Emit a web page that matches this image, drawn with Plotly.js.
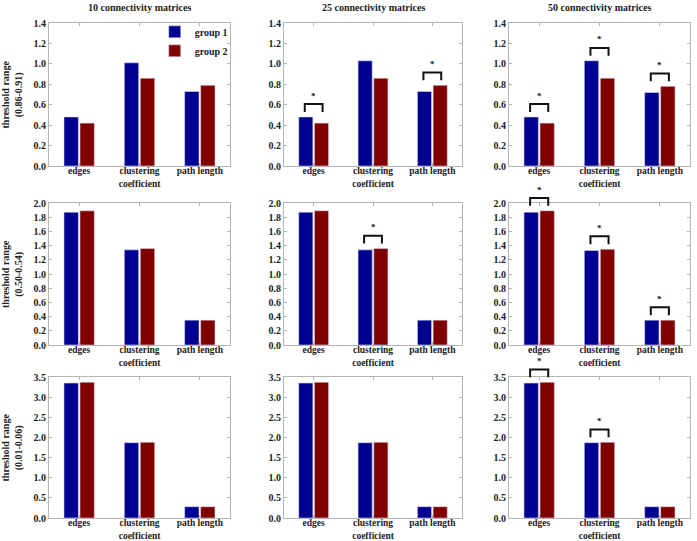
<!DOCTYPE html>
<html>
<head>
<meta charset="utf-8">
<script src="https://cdn.plot.ly/plotly-3.0.1.min.js"></script>
<style>html,body{margin:0;padding:0;background:#fff;}#chart{width:697px;height:541px;}</style>
</head>
<body>
<div id="chart"></div>
<script>
// ---------- DATA ----------
const categories = ['edges', 'clustering<br>coefficient', 'path length'];
const groupNames = ['group 1', 'group 2'];
const columnTitles = ['10 connectivity matrices', '25 connectivity matrices', '50 connectivity matrices'];
const rowTitles = ['threshold range<br>(0.86-0.91)', 'threshold range<br>(0.50-0.54)', 'threshold range<br>(0.01-0.06)'];

// values per column (10, 25, 50 matrices), each [edges, clustering coefficient, path length]
const range086_group1 = [[0.48, 1.01, 0.73], [0.48, 1.03, 0.73], [0.48, 1.03, 0.72]];
const range086_group2 = [[0.42, 0.86, 0.79], [0.42, 0.86, 0.79], [0.42, 0.86, 0.78]];
const range050_group1 = [[1.87, 1.34, 0.35], [1.87, 1.34, 0.35], [1.87, 1.33, 0.35]];
const range050_group2 = [[1.89, 1.36, 0.35], [1.89, 1.36, 0.35], [1.89, 1.35, 0.35]];
const range001_group1 = [[3.35, 1.87, 0.28], [3.35, 1.87, 0.28], [3.35, 1.87, 0.28]];
const range001_group2 = [[3.37, 1.88, 0.28], [3.37, 1.88, 0.28], [3.37, 1.88, 0.28]];

// significance flags (1 = asterisk bracket)
const range086_sig = [[0, 0, 0], [1, 0, 1], [1, 1, 1]];
const range050_sig = [[0, 0, 0], [0, 1, 0], [1, 1, 1]];
const range001_sig = [[0, 0, 0], [0, 0, 0], [1, 1, 0]];

const yMax = [1.4, 2.0, 3.5];
const yStep = [0.2, 0.2, 0.5];

// ---------- STYLE / LAYOUT ----------
const W = 697, H = 541;
const colColors = ['#000091', '#800000'];
const fam = 'Liberation Serif, DejaVu Serif, serif';
const bold = (size, color) => ({family: fam, size: size, color: color || '#222', weight: 'bold'});
const xDomPx = [[49, 230], [284, 462], [509, 690]];
const yDomPx = [[23, 166], [203, 345], [377, 518]];

const g1 = [range086_group1, range050_group1, range001_group1];
const g2 = [range086_group2, range050_group2, range001_group2];
const sig = [range086_sig, range050_sig, range001_sig];

const traces = [];
const layout = {
  width: W, height: H, autosize: false,
  margin: {l: 0, r: 0, t: 0, b: 0},
  paper_bgcolor: '#fff', plot_bgcolor: '#fff',
  barmode: 'group', bargap: 0.47, bargroupgap: 0.1,
  font: bold(10),
  showlegend: true,
  legend: {x: 0.222, y: 0.968, xanchor: 'left', yanchor: 'top', bgcolor: 'rgba(0,0,0,0)',
           font: bold(10), itemwidth: 30},
  shapes: [], annotations: []
};

for (let r = 0; r < 3; r++) {
  for (let c = 0; c < 3; c++) {
    const k = r * 3 + c + 1;
    const xa = 'x' + (k === 1 ? '' : k), ya = 'y' + (k === 1 ? '' : k);
    const xKey = 'xaxis' + (k === 1 ? '' : k), yKey = 'yaxis' + (k === 1 ? '' : k);
    const series = [g1[r][c], g2[r][c]];
    series.forEach((vals, gi) => {
      traces.push({
        type: 'bar', x: [0, 1, 2], y: vals, name: groupNames[gi],
        xaxis: xa, yaxis: ya, marker: {color: colColors[gi], line: {width: 0.6, color: '#d8d8ee'}},
        showlegend: k === 1, hoverinfo: 'skip'
      });
    });
    layout[xKey] = {
      domain: [xDomPx[c][0] / W, xDomPx[c][1] / W], anchor: ya,
      range: [-0.5, 2.5], tickvals: [0, 1, 2], ticktext: categories,
      showline: true, linecolor: '#b4b4b4', linewidth: 1, mirror: 'ticks',
      ticks: 'inside', ticklen: 3, tickcolor: '#b4b4b4', showgrid: false, zeroline: false,
      ticklabelstandoff: -4,
      tickfont: bold(9.5), fixedrange: true
    };
    layout[yKey] = {
      domain: [1 - yDomPx[r][1] / H, 1 - yDomPx[r][0] / H], anchor: xa,
      range: [0, yMax[r]], dtick: yStep[r], tick0: 0, tickformat: '.1f',
      showline: true, linecolor: '#b4b4b4', linewidth: 1, mirror: 'ticks',
      ticks: 'inside', ticklen: 3, tickcolor: '#b4b4b4', showgrid: false, zeroline: false,
      tickfont: bold(10), fixedrange: true
    };
    // significance brackets
    sig[r][c].forEach((flag, i) => {
      if (!flag) return;
      const m = Math.max(series[0][i], series[1][i]) / yMax[r];
      const yl = m + 0.035, yt = m + 0.09;
      layout.shapes.push({
        type: 'path', xref: xa, yref: ya + ' domain',
        path: `M ${i - 0.15},${yl} L ${i - 0.15},${yt} L ${i + 0.15},${yt} L ${i + 0.15},${yl}`,
        line: {color: '#111', width: 2}
      });
      layout.annotations.push({
        xref: xa, yref: ya + ' domain', x: i, y: yt + 0.01, yanchor: 'bottom', showarrow: false,
        text: '*', font: bold(9, '#111')
      });
    });
  }
}
// column titles
columnTitles.forEach((t, c) => {
  layout.annotations.push({
    xref: 'paper', yref: 'paper', x: (xDomPx[c][0] + xDomPx[c][1]) / 2 / W, y: 1 - 7 / H,
    xanchor: 'center', yanchor: 'middle', showarrow: false, text: t, font: bold(10)
  });
});
// row titles
rowTitles.forEach((t, r) => {
  layout.annotations.push({
    xref: 'paper', yref: 'paper', x: 12 / W, y: 1 - (yDomPx[r][0] + yDomPx[r][1]) / 2 / H,
    xanchor: 'center', yanchor: 'middle', showarrow: false, text: t, textangle: -90, font: bold(10)
  });
});

Plotly.newPlot('chart', traces, layout, {staticPlot: true, displayModeBar: false});
</script>
</body>
</html>
